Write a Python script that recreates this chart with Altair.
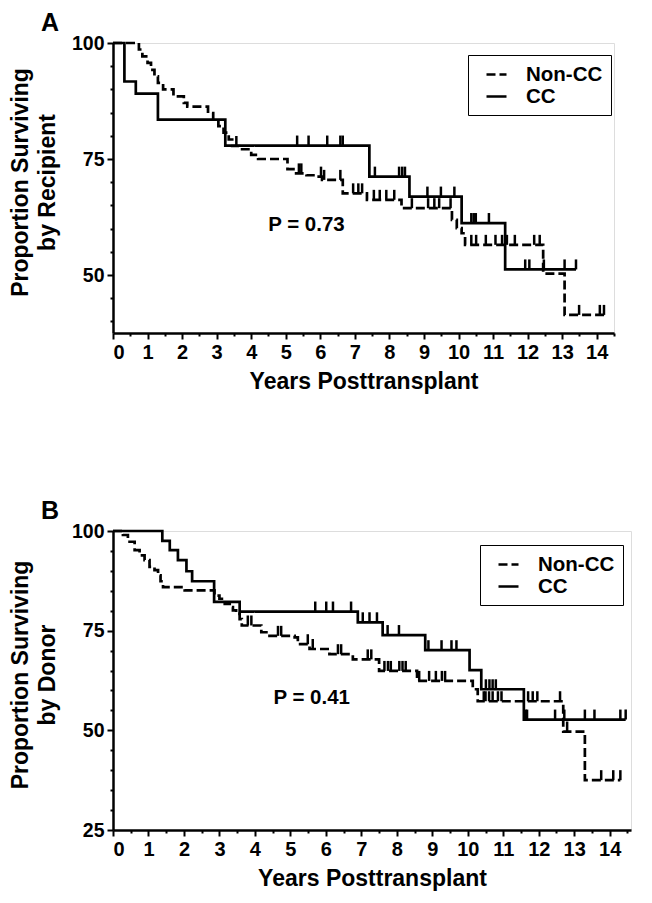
import altair as alt
import pandas as pd

FONT = "Liberation Sans"

# ---------------- Panel A : by Recipient ----------------
a_cc_time = [0, 0.33, 0.66, 1.3, 3.25, 7.42, 8.58, 10.09, 11.35, 13.4]
a_cc_surv = [100, 91.7, 89.1, 83.5, 77.9, 71.2, 66.9, 61.2, 51.2, 51.2]
a_cc_cens = [5.33, 5.66, 6.2, 6.58, 6.65, 7.58, 8.28, 8.37, 8.45, 9.1, 9.49, 9.88,
             10.37, 10.44, 10.5, 10.88, 11.93, 12.05, 12.47, 13.07, 13.4]
a_non_time = [0, 0.75, 0.85, 1.0, 1.1, 1.2, 1.3, 1.45, 1.75, 2.05, 2.15, 2.75, 2.9, 3.05,
              3.2, 3.35, 3.45, 3.65, 4.0, 4.2, 5.05, 5.3, 5.6, 5.9, 6.05, 6.65, 7.35, 8.35,
              9.81, 9.95, 10.09, 10.19, 12.45, 13.07, 14.23]
a_non_surv = [100, 98.6, 97.1, 95.7, 94.2, 92.8, 91.4, 90.0, 88.5, 87.1, 86.3, 84.9, 83.5, 82.1,
              80.7, 79.2, 77.8, 77.1, 75.9, 75.0, 72.8, 71.9, 71.5, 71.2, 70.5, 67.6, 66.2, 64.4,
              61.9, 60.1, 59.0, 56.5, 50.3, 41.4, 41.4]
a_non_cens = [3.57, 5.38, 5.45, 6.02, 6.11, 6.58, 6.95, 7.1, 7.21, 7.55, 7.72, 7.91, 8.14, 8.65,
              9.12, 9.3, 9.44, 9.77, 10.37, 10.51, 10.79, 11.07, 11.26, 11.4, 11.63, 12.19,
              12.35, 13.49, 14.09, 14.21]

# ---------------- Panel B : by Donor ----------------
b_cc_time = [0, 1.39, 1.6, 1.83, 2.07, 2.23, 2.85, 3.57, 6.9, 7.6, 8.8, 10.05, 10.38, 11.58, 14.45]
b_cc_surv = [100, 97.5, 95.2, 92.7, 89.9, 87.4, 82.2, 79.8, 77.1, 73.9, 70.1, 65.1, 60.3, 52.7, 52.7]
b_cc_cens = [5.7, 6.01, 6.2, 6.71, 7.04, 7.23, 7.44, 7.74, 8.06, 8.89, 9.26, 9.54, 9.68,
             10.51, 10.61, 10.7, 10.79, 11.63, 11.67, 12.46, 12.72, 13.3, 13.57, 14.3, 14.45]
b_non_time = [0, 0.28, 0.42, 0.61, 0.75, 0.89, 1.03, 1.17, 1.27, 1.34, 1.41, 2.02, 2.86, 3.0,
              3.15, 3.29, 3.38, 3.47, 3.57, 3.63, 4.18, 4.37, 5.12, 5.21, 5.54, 6.1, 6.76, 7.5,
              8.57, 10.14, 10.28, 12.69, 13.3, 14.3]
b_non_surv = [100, 99.0, 97.3, 95.2, 93.9, 92.7, 91.0, 90.2, 88.9, 87.4, 85.9, 85.1, 83.8, 83.0,
              81.7, 80.9, 80.1, 79.2, 77.9, 76.3, 74.6, 73.7, 73.3, 71.6, 70.4, 69.1, 67.8, 64.9,
              62.4, 60.3, 57.3, 49.7, 37.5, 37.5]
b_non_cens = [3.8, 3.9, 4.65, 4.74, 5.49, 5.63, 6.34, 6.43, 7.18, 7.28, 7.65, 7.75, 7.83, 8.07,
              8.16, 8.25, 8.63, 8.91, 9.1, 9.27, 9.36, 10.45, 10.5, 10.6, 10.7, 10.85, 10.95,
              11.7, 11.83, 11.96, 12.6, 12.8, 13.76, 14.1, 14.3]

groups = ["Non-CC", "CC"]


def surv_at(times, survs, t):
    v = survs[0]
    for ti, si in zip(times, survs):
        if ti <= t:
            v = si
        else:
            break
    return v


def panel(letter, ytitle, cc, non, xmax, ydom, width, height, ptext, ppos, legxy):
    rows, crows = [], []
    for g, (tt, ss, cens) in (("Non-CC", non), ("CC", cc)):
        for t, s in zip(tt, ss):
            rows.append({"group": g, "t": t, "s": s})
        for c in cens:
            crows.append({"group": g, "t": c, "s": surv_at(tt, ss, c)})
    curves = pd.DataFrame(rows)
    censd = pd.DataFrame(crows)

    xs = alt.Scale(domain=[0, xmax], nice=False, zero=False)
    ys = alt.Scale(domain=ydom, nice=False, zero=False)
    xvals = [i * 0.5 for i in range(int(xmax * 2) + 1)]
    yvals = list(range(int(ydom[0] + 4.99) // 5 * 5, 101, 5))
    xaxis = alt.Axis(
        values=xvals, title="Years Posttransplant", labelOverlap=False,
        labelExpr="datum.value % 1 === 0 ? format(datum.value, 'd') : ''",
        tickSize={"condition": {"test": "datum.value % 1 === 0", "value": 6}, "value": 3},
        grid=False, labelFont=FONT, labelFontSize=20, labelFontWeight="bold",
        titleFont=FONT, titleFontSize=23, titleFontWeight="bold", labelPadding=3,
        titlePadding=8, domainWidth=2.5, tickWidth=2, domainColor="black",
        tickColor="black", labelColor="black", titleColor="black")
    yaxis = alt.Axis(
        values=yvals, title=ytitle, labelOverlap=False,
        labelExpr="datum.value % 25 === 0 ? format(datum.value, 'd') : ''",
        tickSize={"condition": {"test": "datum.value % 25 === 0", "value": 6}, "value": 3},
        grid=False, labelFont=FONT, labelFontSize=19.5, labelFontWeight="bold",
        titleFont=FONT, titleFontSize=23, titleFontWeight="bold", titleLineHeight=27,
        titleY=height / 2 - 6,
        labelPadding=3, titlePadding=12, domainWidth=2.5, tickWidth=2, domainColor="black",
        tickColor="black", labelColor="black", titleColor="black")

    X = alt.X("t:Q", scale=xs, axis=xaxis)
    Y = alt.Y("s:Q", scale=ys, axis=yaxis)

    legend = alt.Legend(
        title=None, orient="none", legendX=legxy[0], legendY=legxy[1], direction="vertical",
        strokeColor="black", padding=8, symbolOffset=9, labelOffset=18, rowPadding=0,
        symbolType="stroke", symbolSize=400, symbolStrokeWidth=2.5, symbolStrokeColor="black",
        labelFont=FONT, labelFontSize=20.5, labelFontWeight="bold", labelColor="black",
        fillColor="white")

    lines = alt.Chart(curves).mark_line(interpolate="step-after", strokeWidth=2.7, color="black").encode(
        x=X, y=Y,
        strokeDash=alt.StrokeDash("group:N", scale=alt.Scale(domain=groups, range=[[9, 4], [1, 0]]),
                                  legend=legend),
    )
    ticks = alt.Chart(censd).mark_tick(orient="vertical", size=10, thickness=2.5, yOffset=-5,
                                       color="black", opacity=1).encode(x=X, y=Y)
    ptxt = alt.Chart(pd.DataFrame({"t": [ppos[0]], "s": [ppos[1]], "label": [ptext]})).mark_text(
        font=FONT, fontSize=20.5, fontWeight="bold", color="black", align="center", baseline="middle"
    ).encode(x=X, y=Y, text="label:N")

    return alt.layer(lines, ticks, ptxt).properties(
        width=width, height=height,
        title=alt.TitleParams(letter, anchor="start", frame="group", dx=-72, fontSize=25,
                              font=FONT, fontWeight="bold", color="black", offset=-3))


pa = panel("A", ["Proportion Surviving", "by Recipient"], (a_cc_time, a_cc_surv, a_cc_cens),
           (a_non_time, a_non_surv, a_non_cens), 14.5, [37.5, 100], 501, 290,
           "P = 0.73", (5.6, 60.8), (355, 12))
pb = panel("B", ["Proportion Surviving", "by Donor"], (b_cc_time, b_cc_surv, b_cc_cens),
           (b_non_time, b_non_surv, b_non_cens), 14.6, [25, 100], 518, 299,
           "P = 0.41", (5.6, 58.1), (367, 14))

chart = alt.vconcat(pa, pb, spacing=104).resolve_scale(strokeDash="independent").configure_view(
    stroke=None).configure(padding={"left": 0, "top": 2, "right": 0, "bottom": 0})

chart.save("out.html", embed_options={"renderer": "svg", "actions": False})
